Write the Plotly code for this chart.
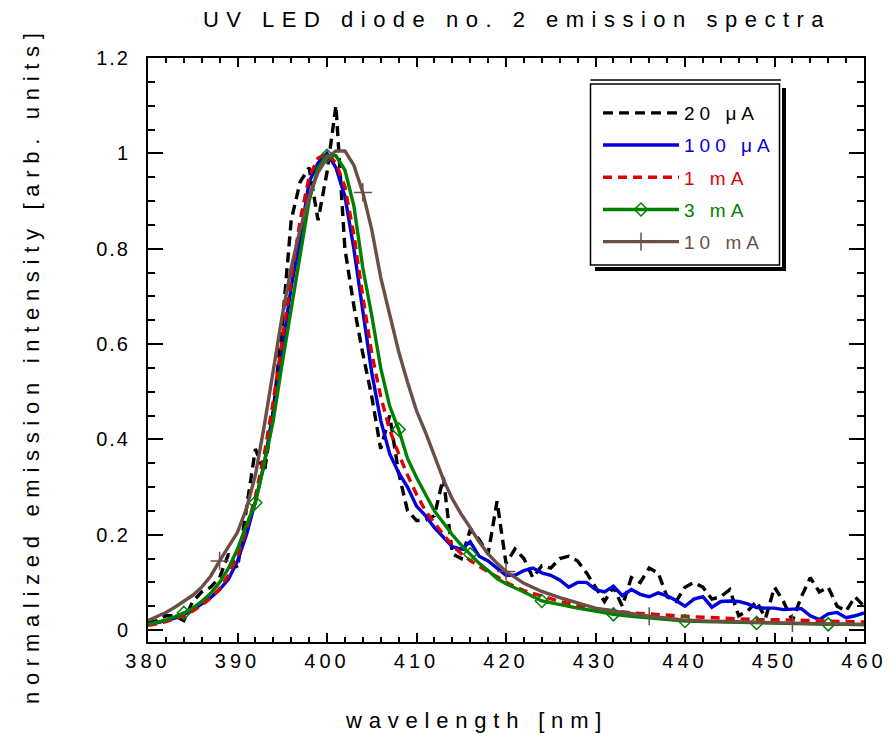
import plotly.graph_objects as go

# ---------------- data ----------------
wl_1nm = list(range(380, 461))
i_20uA = [0.015, 0.02, 0.03, 0.03, 0.02, 0.06, 0.08, 0.09, 0.11, 0.16,
          0.13, 0.25, 0.38, 0.33, 0.46, 0.64, 0.86, 0.94, 0.97, 0.86,
          0.96, 1.10, 0.80, 0.68, 0.58, 0.49, 0.38, 0.45, 0.33, 0.25,
          0.23, 0.23, 0.24, 0.32, 0.16, 0.15, 0.21, 0.19, 0.16, 0.27,
          0.14, 0.17, 0.15, 0.11, 0.135, 0.13, 0.15, 0.155, 0.145, 0.12,
          0.09, 0.06, 0.09, 0.05, 0.11, 0.10, 0.13, 0.12, 0.07, 0.06,
          0.09, 0.10, 0.09, 0.065, 0.07, 0.085, 0.03, 0.04, 0.06, 0.025,
          0.09, 0.06, 0.02, 0.07, 0.11, 0.08, 0.09, 0.05, 0.04, 0.07,
          0.05]
i_100uA = [0.012, 0.015, 0.02, 0.025, 0.033, 0.042, 0.055, 0.068, 0.085, 0.107,
           0.145, 0.20, 0.27, 0.35, 0.46, 0.59, 0.72, 0.82, 0.94, 0.98,
           1.0, 0.97, 0.91, 0.80, 0.67, 0.54, 0.44, 0.37, 0.33, 0.30,
           0.26, 0.24, 0.215, 0.195, 0.175, 0.17, 0.185, 0.155, 0.145, 0.13,
           0.115, 0.115, 0.125, 0.13, 0.12, 0.115, 0.105, 0.09, 0.10, 0.10,
           0.085, 0.08, 0.092, 0.072, 0.085, 0.075, 0.07, 0.078, 0.072, 0.062,
           0.05, 0.065, 0.07, 0.048, 0.06, 0.061, 0.06, 0.055, 0.047, 0.046,
           0.046, 0.043, 0.044, 0.045, 0.03, 0.022, 0.034, 0.037, 0.026, 0.03,
           0.036]

wl_mixed = list(range(380, 421)) + list(range(422, 461, 2))
i_1mA = [0.01, 0.013, 0.018, 0.024, 0.03, 0.04, 0.052, 0.067, 0.087, 0.115,
         0.155, 0.21, 0.28, 0.37, 0.48, 0.61, 0.74, 0.86, 0.95, 0.99,
         1.0, 0.98, 0.93, 0.83, 0.70, 0.58, 0.49, 0.42, 0.37, 0.325,
         0.285, 0.25, 0.225, 0.20, 0.178, 0.16, 0.146, 0.133, 0.122, 0.112,
         0.10,
         0.083, 0.072, 0.06, 0.052, 0.045, 0.04, 0.036, 0.034, 0.031, 0.029,
         0.027, 0.025, 0.024, 0.022, 0.022, 0.021, 0.02, 0.019, 0.018, 0.017]
i_3mA = [0.012, 0.016, 0.021, 0.028, 0.036, 0.046, 0.06, 0.077, 0.10, 0.13,
         0.17, 0.22, 0.267, 0.35, 0.44, 0.56, 0.67, 0.79, 0.90, 0.97,
         0.995, 0.995, 0.965, 0.89, 0.76, 0.66, 0.55, 0.47, 0.421, 0.36,
         0.32, 0.285, 0.25, 0.225, 0.20, 0.178, 0.159, 0.14, 0.125, 0.108,
         0.097,
         0.08, 0.061, 0.053, 0.046, 0.04, 0.033, 0.029, 0.026, 0.023, 0.019,
         0.018, 0.017, 0.016, 0.015, 0.015, 0.014, 0.013, 0.012, 0.012, 0.011]
i_10mA = [0.02, 0.028, 0.037, 0.048, 0.06, 0.073, 0.09, 0.113, 0.145, 0.175,
          0.205, 0.255, 0.325, 0.43, 0.55, 0.66, 0.76, 0.84, 0.91, 0.96,
          0.99, 1.005, 1.005, 0.975, 0.918, 0.84, 0.74, 0.665, 0.585, 0.52,
          0.46, 0.415, 0.365, 0.316, 0.275, 0.243, 0.215, 0.185, 0.16, 0.14,
          0.123,
          0.098, 0.081, 0.068, 0.057, 0.046, 0.04, 0.034, 0.029, 0.025, 0.021,
          0.019, 0.018, 0.017, 0.016, 0.016, 0.015, 0.014, 0.013, 0.013, 0.012]

markers_3mA = [384, 392, 400, 408, 416, 424, 432, 440, 448, 456]
markers_10mA = [388, 404, 420, 436, 452]

series_names = ["20 μA", "100 μA", "1 mA", "3 mA", "10 mA"]
x_tick_vals = [380, 390, 400, 410, 420, 430, 440, 450, 460]
x_tick_text = ["380", "390", "400", "410", "420", "430", "440", "450", "460"]
y_tick_vals = [0, 0.2, 0.4, 0.6, 0.8, 1.0, 1.2]
y_tick_text = ["0", "0.2", "0.4", "0.6", "0.8", "1", "1.2"]

title_text = "UV LED diode no. 2 emission spectra"
x_title = "wavelength [nm]"
y_title = "normalized emission intensity [arb. units]"

# ---------------- styling ----------------
FONT = "Liberation Sans, Arial, sans-serif"
C_BLACK = "#000000"
C_BLUE = "#0000dc"
C_RED = "#e00000"
C_GREEN = "#008000"
C_BROWN = "#6b4e44"
LW = 3.4
OFF = 8                      # page body margin
W, H = 896 - OFF, 741 - OFF  # figure size
L, R, T, B = 140, 32, 50, 99
PW, PH = W - L - R, H - T - B


def sp(text, ls, color=None):
    st = f"letter-spacing:{ls}px"
    if color:
        st += f";color:{color}"
    return f'<span style="{st}">{text}</span>'


def px2paper(x, y):
    """window pixel -> paper coords"""
    x -= OFF
    y -= OFF
    return (x - L) / PW, (H - B - y) / PH


fig = go.Figure()

fig.add_trace(go.Scatter(
    x=wl_1nm, y=i_20uA, mode="lines", name=sp(series_names[0], 5, C_BLACK),
    legendgroup="a", line=dict(color=C_BLACK, width=LW, dash="10px,6px")))
fig.add_trace(go.Scatter(
    x=wl_1nm, y=i_100uA, mode="lines", name=sp(series_names[1], 5, C_BLUE),
    legendgroup="b", line=dict(color=C_BLUE, width=LW)))
fig.add_trace(go.Scatter(
    x=wl_mixed, y=i_1mA, mode="lines", name=sp(series_names[2], 5, C_RED),
    legendgroup="c", line=dict(color=C_RED, width=LW, dash="9px,6px")))
fig.add_trace(go.Scatter(
    x=wl_mixed, y=i_3mA, mode="lines+markers", name=sp(series_names[3], 5, C_GREEN),
    legendgroup="d", line=dict(color=C_GREEN, width=LW),
    marker=dict(symbol="diamond-open", size=10, color=C_GREEN, line=dict(width=1.5, color=C_GREEN)),
    selectedpoints=[wl_mixed.index(v) for v in markers_3mA],
    selected=dict(marker=dict(opacity=1)), unselected=dict(marker=dict(opacity=0))))
fig.add_trace(go.Scatter(
    x=wl_mixed, y=i_10mA, mode="lines+markers", name=sp(series_names[4], 5, C_BROWN),
    legendgroup="e", line=dict(color=C_BROWN, width=LW),
    marker=dict(symbol="cross-thin", size=13, color=C_BROWN, line=dict(width=1.5, color=C_BROWN)),
    selectedpoints=[wl_mixed.index(v) for v in markers_10mA],
    selected=dict(marker=dict(opacity=1)), unselected=dict(marker=dict(opacity=0))))

# legend frame (double top line + drop shadow)
shapes = []
x0, y0 = px2paper(590.5, 84)
x1, y1 = px2paper(779.5, 265)
sx0, sy0 = px2paper(782, 88)
sx1, sy1 = px2paper(786, 271)
bx0, by0 = px2paper(595, 267)
tx0, ty0 = px2paper(590.5, 80)
tx1, _ = px2paper(781, 80)
shapes.append(dict(type="rect", xref="paper", yref="paper", x0=sx0, x1=sx1, y0=sy0, y1=sy1,
                   fillcolor="black", line=dict(width=0), layer="above"))
shapes.append(dict(type="rect", xref="paper", yref="paper", x0=bx0, x1=sx1, y0=by0, y1=sy1,
                   fillcolor="black", line=dict(width=0), layer="above"))
shapes.append(dict(type="rect", xref="paper", yref="paper", x0=x0, x1=x1, y0=y0, y1=y1,
                   fillcolor="white", line=dict(width=1.5, color="black"), layer="above"))
shapes.append(dict(type="line", xref="paper", yref="paper", x0=tx0, x1=tx1, y0=ty0, y1=ty0,
                   line=dict(width=1.5, color="black"), layer="above"))

lx, ly = px2paper(598, 94)
xt_x, xt_y = px2paper(476, 720)
yt_x, yt_y = px2paper(32, 365)

fig.update_layout(
    width=W, height=H,
    margin=dict(l=L, r=R, t=T, b=B, autoexpand=False),
    paper_bgcolor="white", plot_bgcolor="white",
    font=dict(family=FONT, size=18, color="black"),
    title=dict(text=sp(title_text, 7.5), x=(517 - OFF) / W, xref="container", xanchor="center",
               y=1 - (19 - OFF) / H, yref="container", yanchor="middle",
               font=dict(family=FONT, size=22, color="black")),
    showlegend=True,
    legend=dict(x=lx, y=ly, xanchor="left", yanchor="top", bgcolor="rgba(0,0,0,0)",
                borderwidth=0, font=dict(family=FONT, size=19),
                traceorder="grouped", tracegroupgap=4.5, itemwidth=76),
    shapes=shapes,
    annotations=[
        dict(text=sp(x_title, 6.8), xref="paper", yref="paper", x=xt_x, y=xt_y,
             xanchor="center", yanchor="middle", showarrow=False,
             font=dict(family=FONT, size=22, color="black")),
        dict(text=sp(y_title, 6.7), xref="paper", yref="paper", x=yt_x, y=yt_y,
             xanchor="center", yanchor="middle", showarrow=False, textangle=-90,
             font=dict(family=FONT, size=22, color="black")),
    ],
    hovermode=False,
)

fig.update_xaxes(
    range=[380, 460], showgrid=False, zeroline=False,
    showline=True, linecolor="black", linewidth=2, mirror="ticks",
    ticks="inside", ticklen=9, tickwidth=1.5, tickcolor="black",
    tickvals=x_tick_vals, ticktext=[sp(t, 4) for t in x_tick_text],
    tickfont=dict(family=FONT, size=20), ticklabelstandoff=0,
    minor=dict(dtick=2, ticks="inside", ticklen=5, tickwidth=1.5, tickcolor="black", showgrid=False),
)
fig.update_yaxes(
    range=[-0.025, 1.2], showgrid=False, zeroline=False,
    showline=True, linecolor="black", linewidth=2, mirror="ticks",
    ticks="inside", ticklen=15, tickwidth=1.5, tickcolor="black",
    tickvals=y_tick_vals, ticktext=[sp(t, 2) for t in y_tick_text],
    tickfont=dict(family=FONT, size=20), ticklabelstandoff=12,
    minor=dict(dtick=0.05, tick0=0, ticks="inside", ticklen=7, tickwidth=1.5, tickcolor="black", showgrid=False),
)

fig.write_html("out.html")
